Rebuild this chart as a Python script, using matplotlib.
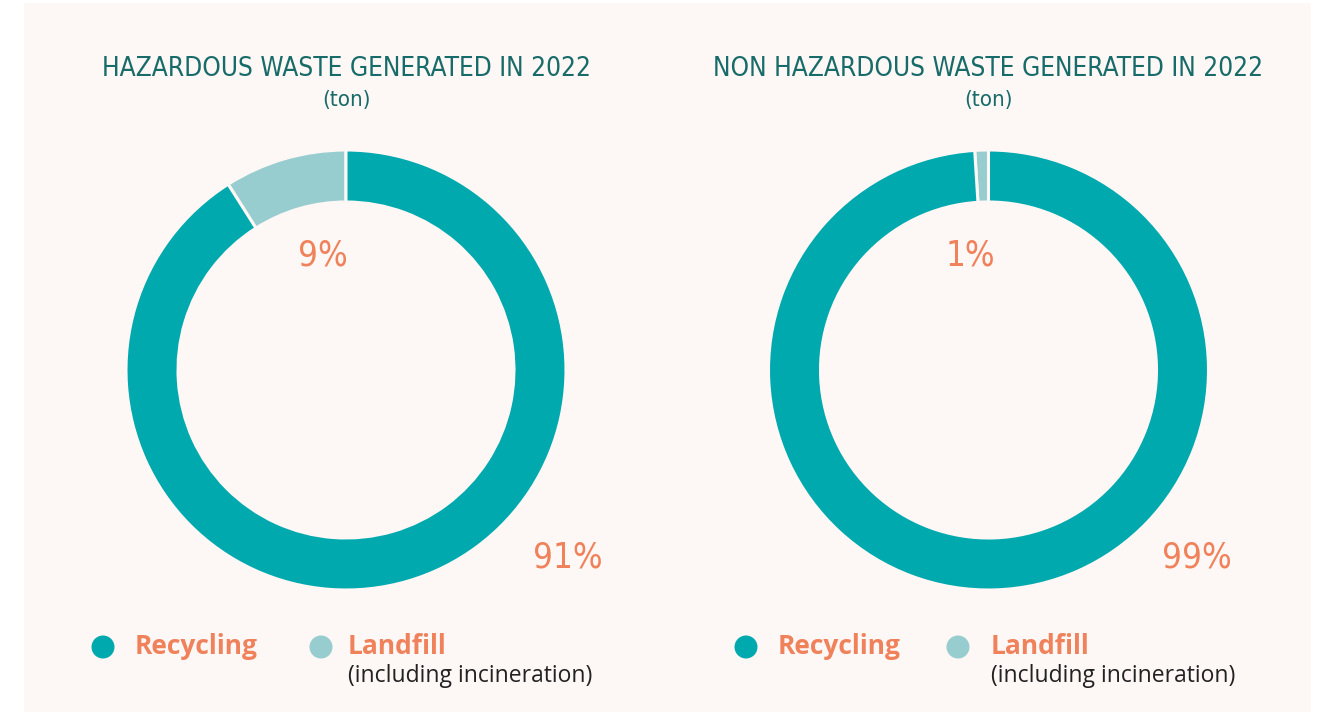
import matplotlib
matplotlib.use("Agg")
import matplotlib.pyplot as plt
from matplotlib.patches import Rectangle, Circle

# ---- data ----
titles = ["HAZARDOUS WASTE GENERATED IN 2022", "NON HAZARDOUS WASTE GENERATED IN 2022"]
unit = "(ton)"
categories = ["Landfill", "Recycling"]
hazardous = [9, 91]
non_hazardous = [1, 99]
pct_labels = [("9%", "91%"), ("1%", "99%")]
legend_labels = ["Recycling", "Landfill"]
legend_note = "(including incineration)"

# ---- style ----
W, H = 1319, 712
TEAL = "#00a9ae"
LIGHT = "#98cdd0"
TITLE_C = "#176b69"
ORANGE = "#f0825b"
BG = "#fdf7f5"
COND = ["DejaVu Sans"]
LEG = ["Open Sans", "DejaVu Sans"]

fig = plt.figure(figsize=(W / 100, H / 100), dpi=100)
fig.patch.set_facecolor("white")
ax = fig.add_axes([0, 0, 1, 1])

def Y(y):
    return H - y

ax.add_patch(Rectangle((24, Y(712)), 1311 - 24, 712 - 3, facecolor=BG, edgecolor="none", zorder=0))

centers = [(346, 370), (988.5, 370)]
R = 220
width = 52
datasets = [hazardous, non_hazardous]

for i, (cx, cy) in enumerate(centers):
    vals = datasets[i]
    ax.pie(vals, colors=[LIGHT, TEAL], startangle=90, counterclock=True,
           center=(cx, Y(cy)), radius=R, frame=True,
           wedgeprops=dict(width=width, edgecolor=BG, linewidth=2.2))

ax.set_xlim(0, W)
ax.set_ylim(0, H)
ax.set_aspect("equal")
ax.axis("off")

for i, (cx, cy) in enumerate(centers):
    ax.text(cx, Y(76), titles[i], ha="center", va="baseline", fontsize=18.8,
            color=TITLE_C, family=COND, fontstretch="condensed")
    ax.text(cx, Y(100), unit, ha="center", va="center", fontsize=16,
            color=TITLE_C, family=COND, fontstretch="condensed")

# percentage labels
pct_pos = [((323, 255), (568, 558)), ((970, 255), (1197, 558))]
for i in range(2):
    for lab, (px, py) in zip(pct_labels[i], pct_pos[i]):
        ax.text(px, Y(py), lab, ha="center", va="center", fontsize=25,
                color=ORANGE, family=COND, fontstretch="condensed",
                fontweight="light")

# legends
leg_x = [(103, 135, 321, 348), (746, 778, 958, 991)]
for c1, t1, c2, t2 in leg_x:
    ax.add_patch(Circle((c1, Y(647)), 11.5, facecolor=TEAL, edgecolor="none"))
    ax.add_patch(Circle((c2, Y(647)), 11.5, facecolor=LIGHT, edgecolor="none"))
    ax.text(t1, Y(647), legend_labels[0], ha="left", va="center", fontsize=19,
            fontweight="bold", color=ORANGE, family=LEG)
    ax.text(t2, Y(647), legend_labels[1], ha="left", va="center", fontsize=19,
            fontweight="bold", color=ORANGE, family=LEG)
    ax.text(t2, Y(676), legend_note, ha="left", va="center", fontsize=16.5,
            color="#222222", family=LEG)

fig.savefig("out.png", dpi=100, facecolor=fig.get_facecolor())
